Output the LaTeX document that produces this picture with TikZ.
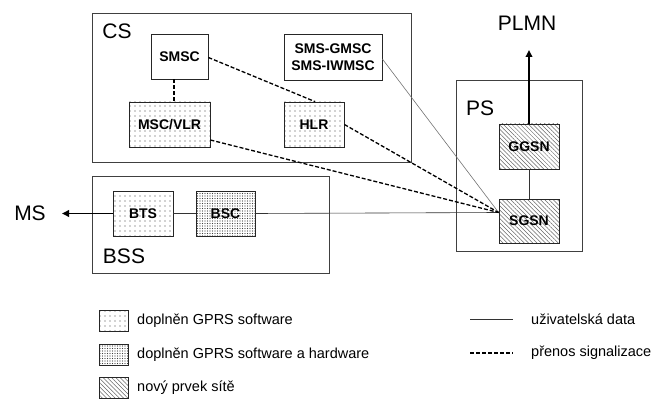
\documentclass[tikz,border=0pt]{standalone}
\usepackage{fontspec}
\setmainfont{Liberation Sans}
\usetikzlibrary{patterns.meta,arrows.meta,calc}
\begin{document}
\begin{tikzpicture}[x=1pt,y=-1pt,
  frame/.style={draw=black!75, line width=0.8pt, inner sep=0pt},
  biglabel/.style={font=\fontsize{21}{24}\selectfont, inner sep=0pt},
  elem/.style={draw=black!85, line width=0.8pt, inner sep=0pt, align=center,
    font=\bfseries\fontsize{14}{16.5}\selectfont},
  plain/.style={elem, fill=white},
  swpat/.style={elem, pattern={Dots[distance=5pt,radius=0.55pt]}, pattern color=black!75},
  hwpat/.style={elem, pattern={Dots[distance=2.5pt,radius=0.6pt]}, pattern color=black!75},
  newpat/.style={elem, pattern={Lines[angle=-45,distance=3pt,line width=0.5pt]}, pattern color=black!60},
  datalink/.style={draw=black!80, line width=0.6pt},
  greylink/.style={draw=black!55, line width=0.6pt},
  sig/.style={draw=black, line width=1.3pt, dash pattern=on 4pt off 2pt},
  pointer/.style={draw=black, line width=1.8pt, -{Triangle[length=7pt,width=6.5pt]}},
  legtext/.style={font=\fontsize{14.5}{17}\selectfont, inner sep=0pt, anchor=west},
  legbox/.style={minimum width=29pt, minimum height=21pt}
]
\useasboundingbox (0,0) rectangle (660,406);

% circuit-switched part
\node[frame, minimum width=319pt, minimum height=149pt] (cs) at (251.5,87.5) {};
\node[biglabel] (cslabel) at (117,31) {CS};
\node[plain, minimum width=57pt, minimum height=45pt] (smsc) at (179.5,56.5) {SMSC};
\node[swpat, minimum width=81pt, minimum height=45pt] (msc) at (169.5,124.5) {MSC/VLR};
\node[plain, minimum width=98pt, minimum height=46pt] (gmsc) at (333,57) {SMS-GMSC\\SMS-IWMSC};
\node[swpat, minimum width=60pt, minimum height=45pt] (hlr) at (314,124.5) {HLR};

% packet-switched part
\node[frame, minimum width=126pt, minimum height=171pt] (ps) at (519,165.5) {};
\node[biglabel] (pslabel) at (480,108) {PS};
\node[newpat, minimum width=60pt, minimum height=45pt] (ggsn) at (529,146.5) {GGSN};
\node[newpat, minimum width=60pt, minimum height=44pt] (sgsn) at (529,221) {SGSN};
\node[biglabel] (plmn) at (527,23) {PLMN};
\coordinate (plmntip) at (529,50);

% base station subsystem
\node[frame, minimum width=237pt, minimum height=97pt] (bss) at (210.5,224.5) {};
\node[biglabel] (bsslabel) at (124,256) {BSS};
\node[swpat, minimum width=60pt, minimum height=45pt] (bts) at (143,213.5) {BTS};
\node[hwpat, minimum width=59pt, minimum height=45pt] (bsc) at (225.5,213.5) {BSC};
\node[biglabel] (ms) at (30,213) {MS};
\coordinate (mstip) at (62,213.5);

% common end point of the links at the SGSN
\coordinate (hub) at ($(sgsn.west)+(0,-8.5)$);

% user data
\draw[datalink] (bts.east) -- (bsc.east -| bsc.west);
\draw[datalink] (bsc.east) -- (hub);
\draw[greylink] ([yshift=-2pt]gmsc.east) -- (hub);
\draw[datalink] (ggsn.south) -- (sgsn.north);

% signalling
\draw[sig] ([xshift=-5.5pt]smsc.south) -- ([xshift=-5.5pt]smsc.south |- msc.north);
\draw[sig] ([yshift=-1pt]smsc.east) -- ([xshift=1pt]hlr.north);
\draw[sig] (hlr.east) -- (hub);
\draw[sig] ([yshift=-15.5pt]msc.east) -- (hub);

% external interfaces
\draw[pointer] (bts.west) -- (mstip);
\draw[pointer] (ggsn.north) -- (plmntip);

% legend
\node[legbox, draw=black!85, line width=0.8pt, pattern={Dots[distance=5pt,radius=0.55pt]}, pattern color=black!75] (leg1) at (113.5,321) {};
\node[legbox, draw=black!85, line width=0.8pt, pattern={Dots[distance=2.5pt,radius=0.6pt]}, pattern color=black!75] (leg2) at (113.5,355) {};
\node[legbox, draw=black!85, line width=0.8pt, pattern={Lines[angle=-45,distance=3pt,line width=0.5pt]}, pattern color=black!60] (leg3) at (113.5,388) {};
\node[legtext] (legt1) at (137,321) {doplněn GPRS software};
\node[legtext] (legt2) at (137,355) {doplněn GPRS software a hardware};
\node[legtext] (legt3) at (137,388) {nový prvek sítě};

\coordinate (ld1a) at (470,319);
\coordinate (ld1b) at (513,319);
\coordinate (ld2a) at (470,353);
\coordinate (ld2b) at (513,353);
\draw[datalink] (ld1a) -- (ld1b);
\draw[draw=black, line width=1.3pt, dash pattern=on 4pt off 2pt] (ld2a) -- (ld2b);
\node[legtext] (legt4) at (531,319) {uživatelská data};
\node[legtext] (legt5) at (531,353) {přenos signalizace};
\end{tikzpicture}
\end{document}
